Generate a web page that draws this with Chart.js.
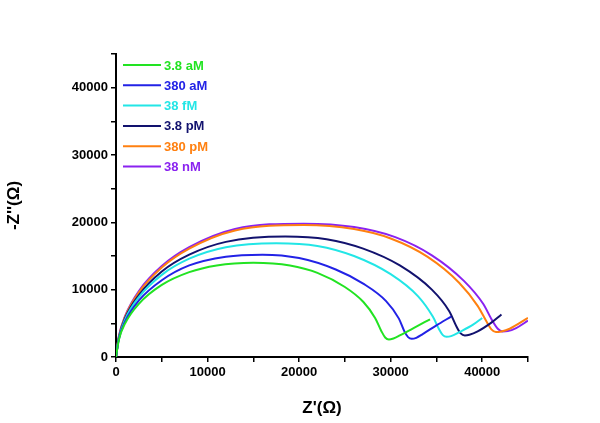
<!DOCTYPE html>
<html><head><script src="https://cdn.jsdelivr.net/npm/chart.js@4"></script>
<style>body{margin:0;background:#fff}#w{width:600px;height:423px}</style></head>
<body><div id="w"><canvas id="c"></canvas></div>
<script>
const labels=["3.8 aM","380 aM","38 fM","3.8 pM","380 pM","38 nM"];
const colors=["#22e322","#2222e6","#22e6e6","#12126e","#ff8010","#8a22f0"];
const s1=[[0,0],[300,2500],[1000,5000],[2500,7900],[5000,10700],[8000,12600],[11000,13600],[15000,14000],[19000,13600],[22000,12500],[25000,10400],[27000,8200],[28300,5800],[29000,3800],[29400,2900],[29800,2600],[30300,2750],[31000,3200],[32500,4300],[34300,5600]];
const s2=[[0,0],[300,2600],[1000,5300],[2500,8400],[5000,11400],[8000,13600],[12000,14900],[16000,15200],[20000,14700],[24000,13000],[27000,10900],[29500,8300],[30900,5700],[31500,3800],[31900,2950],[32300,2700],[32800,2850],[33500,3400],[35000,4700],[36600,6000]];
const s3=[[0,0],[300,2700],[1000,5600],[2500,8900],[5000,12200],[8000,14600],[12000,16300],[17500,16900],[22000,16500],[26000,15000],[30000,12300],[33000,9000],[34600,6000],[35300,4100],[35700,3250],[36100,3000],[36600,3100],[37500,3700],[39000,4800],[40000,5800]];
const s4=[[0,0],[300,2800],[1000,5800],[2500,9200],[5000,12700],[8000,15200],[12000,17100],[18500,17900],[23000,17500],[27000,16100],[31000,13600],[34500,10000],[36400,6800],[37200,4500],[37650,3500],[38100,3200],[38600,3300],[39500,3800],[41000,5100],[42100,6300]];
const s5=[[0,0],[300,2900],[1000,6000],[2500,9600],[5000,13300],[8000,16100],[13000,18800],[20500,19600],[26000,19000],[30000,17600],[34000,14900],[37500,11000],[39500,7600],[40500,5200],[41000,4100],[41500,3700],[42100,3800],[43000,4200],[45000,5800]];
const s6=[[0,0],[300,3000],[1000,6100],[2500,9800],[5000,13500],[8000,16300],[13000,19000],[20500,19800],[26000,19300],[30500,17800],[34500,15100],[38000,11300],[40100,7900],[41100,5400],[41700,4200],[42200,3800],[42800,3850],[43700,4300],[45000,5400]];
const series=[s1,s2,s3,s4,s5,s6];
const font="'Liberation Sans', Arial, sans-serif";
const legendPlugin={id:'lg',afterDraw(ch){const c=ch.ctx;c.save();c.font="bold 13px "+font;c.textBaseline='middle';
labels.forEach((l,i)=>{const y=65+i*20.3;c.strokeStyle=colors[i];c.lineWidth=2;c.beginPath();c.moveTo(123,y);c.lineTo(161,y);c.stroke();c.fillStyle=colors[i];c.fillText(l,164,y+1);});c.restore();}};
new Chart(document.getElementById('c'),{type:'scatter',
data:{datasets:series.map((s,i)=>({label:labels[i],data:s.map(p=>({x:p[0],y:p[1]})),showLine:true,borderColor:colors[i],backgroundColor:colors[i],borderWidth:2,pointRadius:0,cubicInterpolationMode:'monotone'}))},
options:{responsive:true,maintainAspectRatio:false,animation:false,
layout:{padding:{top:54,right:72,left:0,bottom:0}},
plugins:{legend:{display:false},tooltip:{enabled:false}},
scales:{
x:{type:'linear',min:0,max:45000,afterFit(a){a.height=66;},
ticks:{stepSize:5000,color:'#000',font:{family:font,weight:'bold',size:13},maxRotation:0,autoSkip:false,callback:v=>v%10000===0?v:''},
grid:{display:true,drawOnChartArea:false,tickLength:5,color:'#000',lineWidth:1.5},border:{color:'#000',width:2},
title:{display:true,text:"Z'(Ω)",color:'#000',font:{family:font,weight:'bold',size:17},padding:{top:6}}},
y:{min:0,max:45000,afterFit(a){a.width=116;},
ticks:{stepSize:5000,color:'#000',font:{family:font,weight:'bold',size:13},autoSkip:false,callback:v=>v%10000===0?v:''},
grid:{display:true,drawOnChartArea:false,tickLength:5,color:'#000',lineWidth:1.5},border:{color:'#000',width:2},
title:{display:true,text:"-Z''(Ω)",color:'#000',font:{family:font,weight:'bold',size:17},padding:{bottom:0}}}}},
plugins:[legendPlugin]});
</script></body></html>
